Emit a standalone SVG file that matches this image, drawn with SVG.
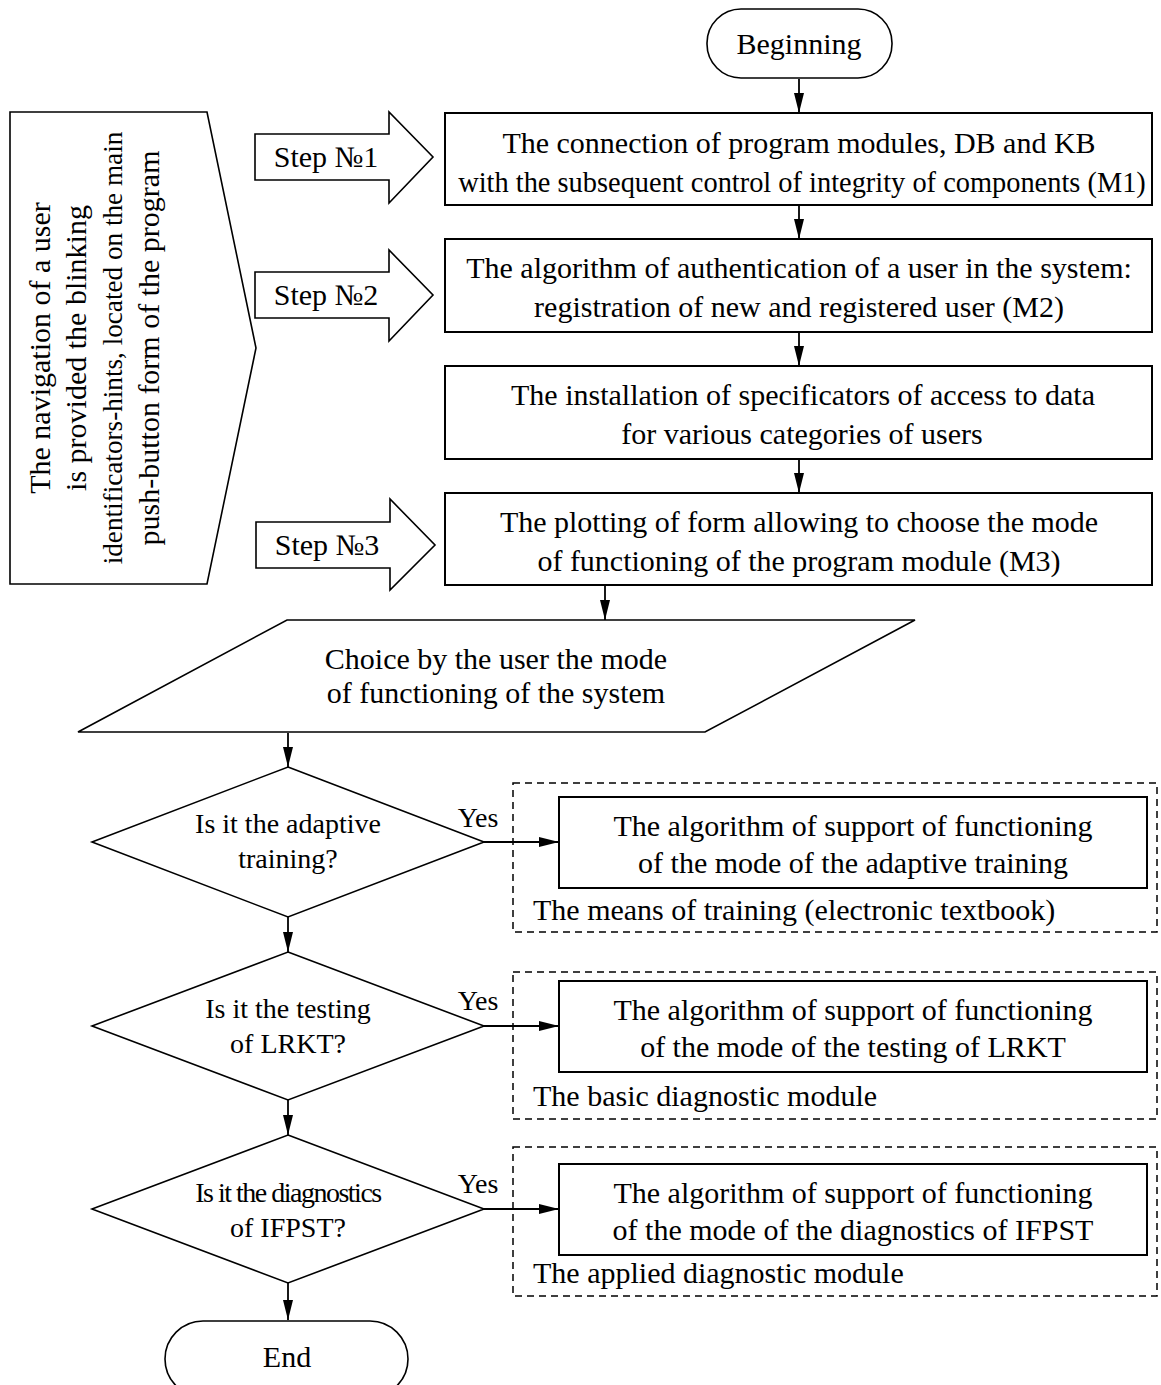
<svg xmlns="http://www.w3.org/2000/svg" width="1161" height="1385" viewBox="0 0 1161 1385">
<defs>
<style>
text{font-family:"Liberation Serif","Times New Roman",serif;fill:#000}
.t30{font-size:30px}
.t28{font-size:28px}
.c{text-anchor:middle}
.box{fill:#fff;stroke:#000;stroke-width:2}
.thin{fill:#fff;stroke:#000;stroke-width:1.6}
.dash{fill:none;stroke:#000;stroke-width:1.5;stroke-dasharray:7 5}
.ln{fill:none;stroke:#000;stroke-width:1.8}
</style>
<marker id="ah" markerUnits="userSpaceOnUse" markerWidth="20" markerHeight="10" refX="20" refY="5" orient="auto">
<path d="M0,0 L20,5 L0,10 z" fill="#000"/>
</marker>
</defs>
<rect width="1161" height="1385" fill="#fff"/>

<g id="connectors">
<line class="ln" x1="799" y1="79" x2="799" y2="113" marker-end="url(#ah)"/>
<line class="ln" x1="799" y1="205" x2="799" y2="239" marker-end="url(#ah)"/>
<line class="ln" x1="799" y1="332" x2="799" y2="366" marker-end="url(#ah)"/>
<line class="ln" x1="799" y1="459" x2="799" y2="493" marker-end="url(#ah)"/>
<line class="ln" x1="605" y1="585" x2="605" y2="620" marker-end="url(#ah)"/>
<line class="ln" x1="288" y1="733" x2="288" y2="767" marker-end="url(#ah)"/>
<line class="ln" x1="288" y1="917" x2="288" y2="952" marker-end="url(#ah)"/>
<line class="ln" x1="288" y1="1100" x2="288" y2="1135" marker-end="url(#ah)"/>
<line class="ln" x1="288" y1="1283" x2="288" y2="1320" marker-end="url(#ah)"/>
<line class="ln" x1="484" y1="842" x2="559" y2="842" marker-end="url(#ah)"/>
<line class="ln" x1="484" y1="1026" x2="559" y2="1026" marker-end="url(#ah)"/>
<line class="ln" x1="484" y1="1209" x2="559" y2="1209" marker-end="url(#ah)"/>
<text class="t28 c" x="478" y="827">Yes</text>
<text class="t28 c" x="478" y="1010">Yes</text>
<text class="t28 c" x="478" y="1193">Yes</text>
</g>

<g id="navigation">
<polygon class="thin" points="10,112 207,112 256,348 207,584 10,584"/>
<text class="t30 c" transform="translate(50,348) rotate(-90)">The navigation of a user</text>
<text class="t30 c" transform="translate(86,348) rotate(-90)">is provided the blinking</text>
<text class="c" font-size="27.2" transform="translate(122,348) rotate(-90)">identificators-hints, located on the main</text>
<text class="t30 c" transform="translate(159,348) rotate(-90)">push-button form of the program</text>
</g>

<g id="step1">
<polygon class="thin" points="255,134 389,134 389,112 433,157 389,203 389,180 255,180"/>
<text class="t30 c" x="326" y="167">Step №1</text>
</g>
<g id="step2">
<polygon class="thin" points="255,272 389,272 389,250 433,295 389,341 389,318 255,318"/>
<text class="t30 c" x="326" y="305">Step №2</text>
</g>
<g id="step3">
<polygon class="thin" points="256,522 390,522 390,499 435,545 390,590 390,568 256,568"/>
<text class="t30 c" x="327" y="555">Step №3</text>
</g>

<g id="beginning">
<rect class="thin" x="707" y="9" width="185" height="69" rx="34" ry="34"/>
<text class="t30 c" x="799" y="54">Beginning</text>
</g>

<g id="m1">
<rect class="box" x="445" y="113" width="707" height="92"/>
<text class="t30 c" x="799" y="153">The connection of program modules, DB and KB</text>
<text class="c" font-size="28.4" x="802" y="192">with the subsequent control of integrity of components (M1)</text>
</g>
<g id="m2">
<rect class="box" x="445" y="239" width="707" height="93"/>
<text class="t30 c" x="799" y="278">The algorithm of authentication of a user in the system:</text>
<text class="t30 c" x="799" y="317">registration of new and registered user (M2)</text>
</g>
<g id="access">
<rect class="box" x="445" y="366" width="707" height="93"/>
<text class="t30 c" x="803" y="405">The installation of specificators of access to data</text>
<text class="t30 c" x="802" y="444">for various categories of users</text>
</g>
<g id="m3">
<rect class="box" x="445" y="493" width="707" height="92"/>
<text class="t30 c" x="799" y="532">The plotting of form allowing to choose the mode</text>
<text class="t30 c" x="799" y="571">of functioning of the program module (M3)</text>
</g>

<g id="choice">
<polygon class="thin" points="287,620 915,620 705,732 78,732"/>
<text class="t30 c" x="496" y="669">Choice by the user the mode</text>
<text class="t30 c" x="496" y="703">of functioning of the system</text>
</g>

<g id="q1">
<polygon class="thin" points="288,767 484,842 288,917 92,842"/>
<text class="t28 c" x="288" y="833">Is it the adaptive</text>
<text class="t28 c" x="288" y="868">training?</text>
</g>
<g id="q2">
<polygon class="thin" points="288,952 484,1026 288,1100 92,1026"/>
<text class="t28 c" x="288" y="1018">Is it the testing</text>
<text class="t28 c" x="288" y="1053">of LRKT?</text>
</g>
<g id="q3">
<polygon class="thin" points="288,1135 484,1209 288,1283 92,1209"/>
<text class="t28 c" x="288" y="1202" letter-spacing="-1.5">Is it the diagnostics</text>
<text class="t28 c" x="288" y="1237">of IFPST?</text>
</g>

<g id="end">
<rect class="thin" x="165" y="1321" width="243" height="76" rx="38" ry="38"/>
<text class="t30 c" x="287" y="1367">End</text>
</g>

<g id="training-group">
<rect class="dash" x="513" y="783" width="644" height="149"/>
<rect class="box" x="559" y="797" width="588" height="91"/>
<text class="t30 c" x="853" y="836">The algorithm of support of functioning</text>
<text class="t30 c" x="853" y="873">of the mode of the adaptive training</text>
<text class="t30" x="533" y="920">The means of training (electronic textbook)</text>
</g>
<g id="basic-group">
<rect class="dash" x="513" y="972" width="644" height="147"/>
<rect class="box" x="559" y="981" width="588" height="91"/>
<text class="t30 c" x="853" y="1020">The algorithm of support of functioning</text>
<text class="t30 c" x="853" y="1057">of the mode of the testing of LRKT</text>
<text class="t30" x="533" y="1106">The basic diagnostic module</text>
</g>
<g id="applied-group">
<rect class="dash" x="513" y="1147" width="644" height="149"/>
<rect class="box" x="559" y="1164" width="588" height="91"/>
<text class="t30 c" x="853" y="1203">The algorithm of support of functioning</text>
<text class="t30 c" x="853" y="1240">of the mode of the diagnostics of IFPST</text>
<text class="t30" x="533" y="1283">The applied diagnostic module</text>
</g>
</svg>
